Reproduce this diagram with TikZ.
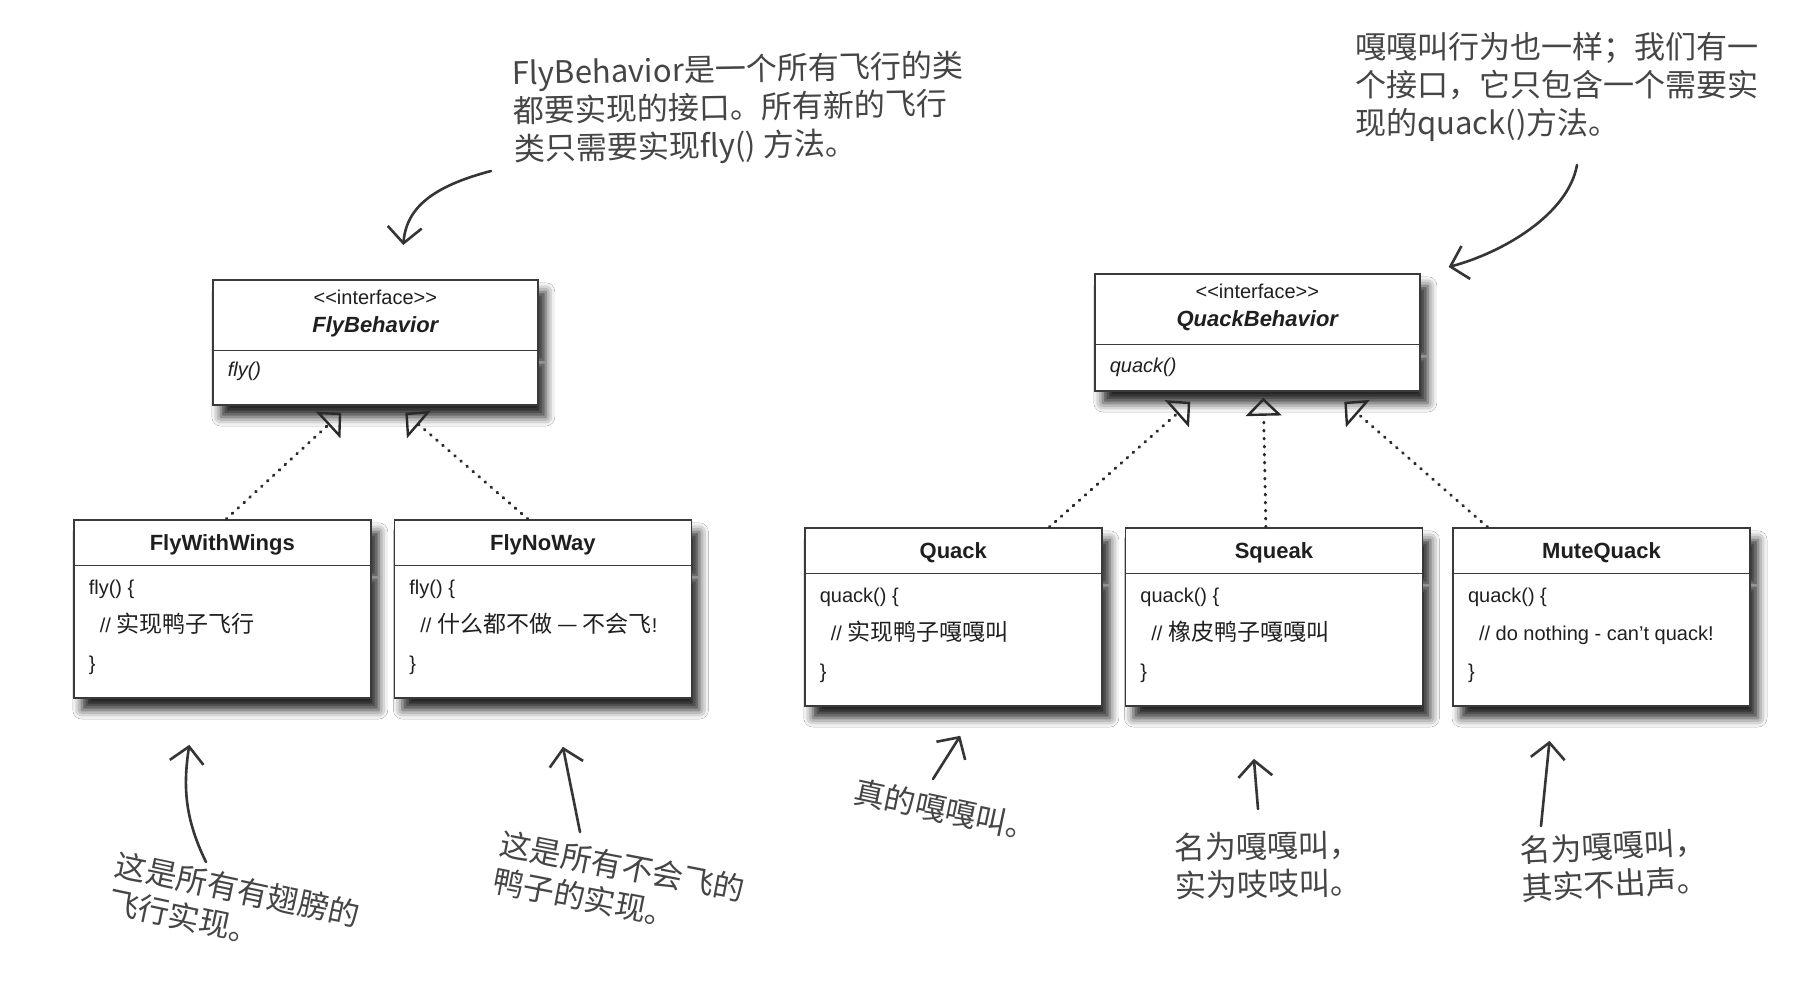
\documentclass[tikz,border=0pt]{standalone}
\usepackage{fontspec}
\setmainfont{Liberation Sans}
\newfontfamily\cjk[Scale=1.15]{Noto Sans CJK SC}
\usetikzlibrary{arrows.meta, positioning, shapes.multipart, shadows.blur}
\definecolor{umlline}{HTML}{3A3A3A}
\definecolor{umltext}{HTML}{1F1F1F}
\definecolor{umldots}{HTML}{2A2A2A}
\definecolor{hinttext}{HTML}{454545}
\definecolor{hintline}{HTML}{353535}

\begin{document}
\begin{tikzpicture}[
        x=1pt, y=-1pt,
        umlbox/.style={
            rectangle split,
            rectangle split parts=2,
            rectangle split part align={center, left},
            draw=umlline,
            line width=1.6pt,
            fill=white,
            text=umltext,
            inner xsep=15pt,
            inner ysep=0pt,
            blur shadow={shadow xshift=8pt, shadow yshift=-12pt,
                shadow blur radius=9pt, shadow opacity=85}
        },
        interface/.style={umlbox, minimum width=325pt, align=center,
            font=\fontsize{20}{28}\selectfont},
        realization/.style={umlbox, minimum width=297pt, align=left,
            font=\fontsize{20}{38}\selectfont},
        realize/.style={
            -{Triangle[open, length=18pt, width=36pt, line width=2.4pt]},
            line width=3pt, umldots,
            dash pattern=on 0.8pt off 7.2pt, line cap=round
        },
        hint/.style={
            align=left, inner sep=0pt, text=hinttext,
            font=\cjk\fontsize{27}{38}\selectfont
        },
        hintarrow/.style={
            -{Straight Barb[length=16pt, width=34pt]},
            line width=2.6pt, hintline, line cap=round
        }
    ]
        \path[fill=white, use as bounding box] (0,0) rectangle (1818,989);

        % interfaces
        \node[interface, anchor=north west] (flybehavior) at (212,279)
            {\rule{0pt}{24pt}<\kern0pt<interface>\kern0pt>\\
             \fontsize{22}{28}\selectfont\bfseries\itshape FlyBehavior\rule[-17pt]{0pt}{17pt}
             \nodepart{two}\rule[-28pt]{0pt}{53pt}\itshape fly()};
        \node[interface, anchor=north west] (quackbehavior) at (1094,273)
            {\rule{0pt}{24pt}<\kern0pt<interface>\kern0pt>\\
             \fontsize{22}{28}\selectfont\bfseries\itshape QuackBehavior\rule[-17pt]{0pt}{17pt}
             \nodepart{two}\rule[-18pt]{0pt}{45pt}\itshape quack()};

        % fly classes
        \node[realization, anchor=north west] (flywings) at (73,519)
            {\rule[-14pt]{0pt}{44pt}\fontsize{22}{26}\selectfont\bfseries FlyWithWings
             \nodepart{two}\rule{0pt}{28pt}fly() \{\\
             \hspace*{11pt}// {\cjk 实现鸭子飞行}\\
             \}\rule[-27pt]{0pt}{27pt}};
        \node[realization, right=22pt of flywings] (flynoway)
            {\rule[-14pt]{0pt}{44pt}\fontsize{22}{26}\selectfont\bfseries FlyNoWay
             \nodepart{two}\rule{0pt}{28pt}fly() \{\\
             \hspace*{11pt}// {\cjk 什么都不做 — 不会飞}!\\
             \}\rule[-27pt]{0pt}{27pt}};

        % quack classes
        \node[realization, anchor=north west] (quack) at (804,527)
            {\rule[-14pt]{0pt}{44pt}\fontsize{22}{26}\selectfont\bfseries Quack
             \nodepart{two}\rule{0pt}{28pt}quack() \{\\
             \hspace*{11pt}// {\cjk 实现鸭子嘎嘎叫}\\
             \}\rule[-27pt]{0pt}{27pt}};
        \node[realization, right=22pt of quack] (squeak)
            {\rule[-14pt]{0pt}{44pt}\fontsize{22}{26}\selectfont\bfseries Squeak
             \nodepart{two}\rule{0pt}{28pt}quack() \{\\
             \hspace*{11pt}// {\cjk 橡皮鸭子嘎嘎叫}\\
             \}\rule[-27pt]{0pt}{27pt}};
        \node[realization, right=29pt of squeak] (mutequack)
            {\rule[-14pt]{0pt}{44pt}\fontsize{22}{26}\selectfont\bfseries MuteQuack
             \nodepart{two}\rule{0pt}{28pt}quack() \{\\
             \hspace*{11pt}// do nothing - can’t quack!\\
             \}\rule[-27pt]{0pt}{27pt}};

        \draw[realize] ([xshift=4pt]flywings.north) -- ([xshift=-34pt, yshift=-7pt]flybehavior.south);
        \draw[realize] ([xshift=-15pt]flynoway.north) -- ([xshift=30pt, yshift=-7pt]flybehavior.south);
        \draw[realize] ([xshift=96pt]quack.north) -- ([xshift=-67pt, yshift=-10pt]quackbehavior.south);
        \draw[realize] ([xshift=-8pt]squeak.north) -- ([xshift=6pt, yshift=-6pt]quackbehavior.south);
        \draw[realize] ([xshift=-114pt]mutequack.north) -- ([xshift=87pt, yshift=-10pt]quackbehavior.south);

        % handwritten notes
        \node[hint, anchor=west, rotate=1] (flyhint) at (513,113)
            {FlyBehavior是一个所有飞行的类\\都要实现的接口。所有新的飞行\\类只需要实现fly() 方法。};
        \node[hint, anchor=west] (quackhint) at (1355,87)
            {嘎嘎叫行为也一样；我们有一\\个接口，它只包含一个需要实\\现的quack()方法。};
        \node[hint, rotate=-12] (wingshint) at (234,908) {这是所有有翅膀的\\飞行实现。};
        \node[hint, rotate=-11] (nowayhint) at (619,885) {这是所有不会飞的\\鸭子的实现。};
        \node[hint, rotate=-12] (realhint) at (946,810) {真的嘎嘎叫。};
        \node[hint, rotate=1] (squeakhint) at (1268,865) {名为嘎嘎叫，\\实为吱吱叫。};
        \node[hint, rotate=3] (mutehint) at (1614,865) {名为嘎嘎叫，\\其实不出声。};

        \draw[hintarrow] ([xshift=-22pt, yshift=-58pt]flyhint.west)
            .. controls +(-57,15) and +(3,-38) .. ([xshift=28pt, yshift=34pt]flybehavior.north);
        \draw[hintarrow] ([xshift=222pt, yshift=-78pt]quackhint.west)
            .. controls +(-9,50) and +(53,-14) .. ([xshift=28pt, yshift=6pt]quackbehavior.north east);
        \draw[hintarrow] ([xshift=-28pt, yshift=46pt]wingshint.center)
            .. controls +(-22,-45) and +(-6,40) .. ([xshift=-33pt, yshift=-46pt]flywings.south);
        \draw[hintarrow] ([xshift=-39pt, yshift=53pt]nowayhint.center) -- ([xshift=20pt, yshift=-48pt]flynoway.south);
        \draw[hintarrow] ([xshift=-13pt, yshift=31pt]realhint.center) -- ([xshift=7pt, yshift=-29pt]quack.south);
        \draw[hintarrow] ([xshift=-10pt, yshift=56pt]squeakhint.center) -- ([xshift=-20pt, yshift=-52pt]squeak.south);
        \draw[hintarrow] ([xshift=-73pt, yshift=39pt]mutehint.center) -- ([xshift=-52pt, yshift=-34pt]mutequack.south);
    \end{tikzpicture}
\end{document}
